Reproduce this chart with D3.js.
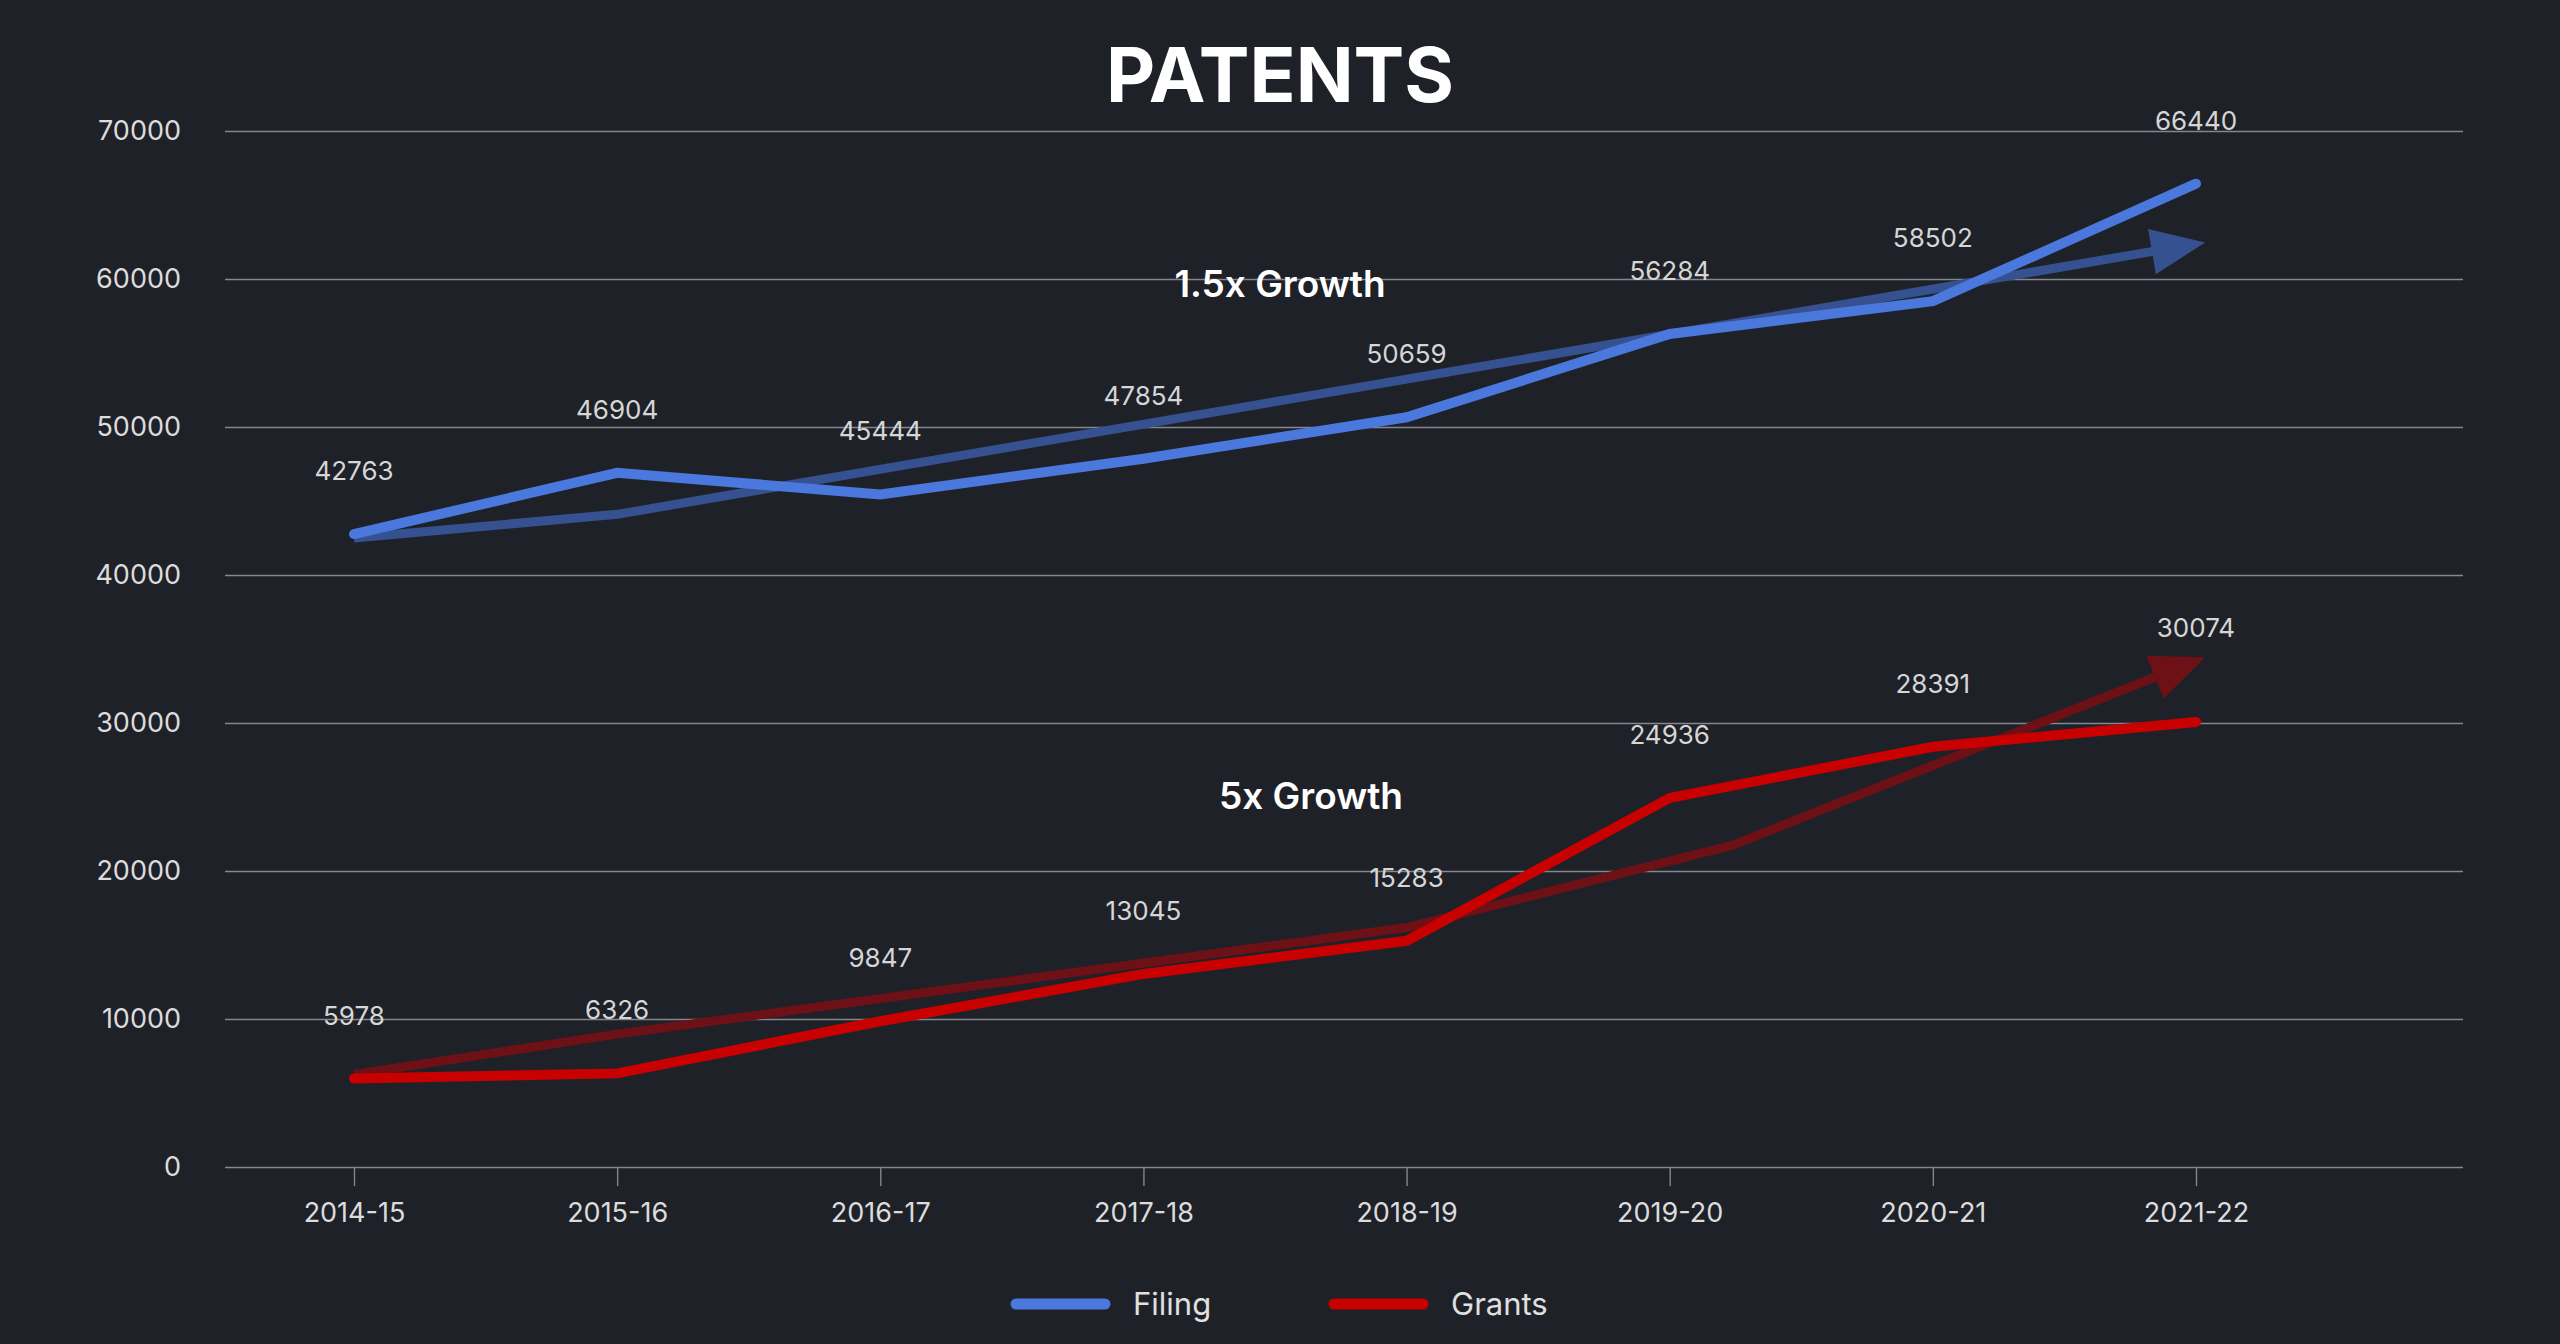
<!DOCTYPE html>
<html>
<head>
<meta charset="utf-8">
<script src="https://cdn.jsdelivr.net/npm/d3@7"></script>
<style>
  html, body { margin: 0; padding: 0; background: #1f2128; }
  svg { display: block; font-family: Inter, "Noto Sans", sans-serif; }
</style>
</head>
<body>
<svg id="chart" width="2560" height="1344"></svg>
<script>

//////////////////////
// Data
//////////////////////
var years = ["2014-15", "2015-16", "2016-17", "2017-18", "2018-19", "2019-20", "2020-21", "2021-22"];
var filing = [42763, 46904, 45444, 47854, 50659, 56284, 58502, 66440];
var grants = [5978, 6326, 9847, 13045, 15283, 24936, 28391, 30074];
var yTicks = [0, 10000, 20000, 30000, 40000, 50000, 60000, 70000];

// hand-drawn trend arrows: [year index, value]
var filingTrend = [[0, 42500], [1, 44100], [7.035, 62470]];
var grantsTrend = [[0, 6250], [1, 8980], [4, 16180], [5.24, 21750], [7.035, 34450]];

var seriesNames = ["Filing", "Grants"];
var seriesColors = ["#4a78dc", "#c80000"];
var trendColors = ["#36518f", "#6d1117"];

//////////////////////
// Layout
//////////////////////
var W = 2560, H = 1344;
var plot = { left: 225, right: 2463, top: 131, bottom: 1167 };

var svg = d3.select("#chart");

svg.append("rect").attr("width", W).attr("height", H).attr("fill", "#1f2128");

var x = d3.scalePoint().domain(years).range([354, 2196]);
var xi = d3.scaleLinear().domain([0, years.length - 1]).range([x(years[0]), x(years[years.length - 1])]);
var y = d3.scaleLinear().domain([0, 70000]).range([plot.bottom, plot.top]);

//////////////////////
// Axes
//////////////////////
var yAxis = svg.append("g")
    .attr("transform", "translate(" + plot.left + ",0)")
    .call(d3.axisLeft(y).tickValues(yTicks).tickFormat(d3.format("d"))
        .tickSize(-(plot.right - plot.left)).tickPadding(44));
yAxis.select(".domain").remove();
yAxis.selectAll(".tick line").attr("stroke", "#85878c").attr("stroke-width", 1.4);
yAxis.selectAll(".tick text")
    .attr("fill", "#dcdcdc")
    .attr("font-size", 27)
    .attr("font-family", "Inter");

var xAxis = svg.append("g")
    .attr("transform", "translate(0," + plot.bottom + ")")
    .call(d3.axisBottom(x).tickSize(19).tickPadding(17));
xAxis.select(".domain").remove();
xAxis.selectAll(".tick line").attr("stroke", "#85878c").attr("stroke-width", 1.4);
xAxis.selectAll(".tick text")
    .attr("fill", "#dcdcdc")
    .attr("font-size", 27)
    .attr("font-family", "Inter");

//////////////////////
// Trend arrows
//////////////////////
function drawTrend(pts, color) {
    var px = pts.map(function (p) { return [xi(p[0]), y(p[1])]; });
    var tip = px[px.length - 1], prev = px[px.length - 2];
    var dx = tip[0] - prev[0], dy = tip[1] - prev[1];
    var len = Math.sqrt(dx * dx + dy * dy);
    var ux = dx / len, uy = dy / len;
    var headLen = 54, headHalf = 23;
    var base = [tip[0] - ux * headLen, tip[1] - uy * headLen];
    var shaft = px.slice(0, -1).concat([[base[0] + ux * 4, base[1] + uy * 4]]);

    svg.append("path")
        .attr("d", d3.line()(shaft))
        .attr("fill", "none")
        .attr("stroke", color)
        .attr("stroke-width", 9)
        .attr("stroke-linejoin", "round")
        .attr("stroke-linecap", "butt");

    svg.append("path")
        .attr("d", d3.line()([
            tip,
            [base[0] - uy * headHalf, base[1] + ux * headHalf],
            [base[0] + uy * headHalf, base[1] - ux * headHalf]
        ]) + "Z")
        .attr("fill", color);
    return tip;
}

drawTrend(filingTrend, trendColors[0]);
var grantsTip = drawTrend(grantsTrend, trendColors[1]);

//////////////////////
// Series lines
//////////////////////
var line = d3.line()
    .x(function (d, i) { return x(years[i]); })
    .y(function (d) { return y(d); });

[filing, grants].forEach(function (vals, s) {
    svg.append("path")
        .datum(vals)
        .attr("d", line)
        .attr("fill", "none")
        .attr("stroke", seriesColors[s])
        .attr("stroke-width", 10)
        .attr("stroke-linejoin", "miter")
        .attr("stroke-linecap", "round");

    svg.append("g").selectAll("text")
        .data(vals)
        .enter()
        .append("text")
            .attr("x", function (d, i) { return x(years[i]); })
            .attr("y", function (d, i) {
                // last grants label sits above the arrow head
                if (s === 1 && i === vals.length - 1) { return grantsTip[1] - 20; }
                return y(d) - 54;
            })
            .attr("text-anchor", "middle")
            .attr("fill", "#d6d6d6")
            .attr("font-size", 26)
            .text(function (d) { return d; });
});

//////////////////////
// Titles & notes
//////////////////////
svg.append("text")
    .attr("x", 1280).attr("y", 102)
    .attr("text-anchor", "middle")
    .attr("fill", "#ffffff")
    .attr("font-size", 76)
    .attr("font-weight", 700)
    .text("PATENTS");

svg.append("text")
    .attr("x", 1280).attr("y", 297)
    .attr("text-anchor", "middle")
    .attr("fill", "#ffffff")
    .attr("font-size", 37)
    .attr("font-weight", 600)
    .text("1.5x Growth");

svg.append("text")
    .attr("x", 1311).attr("y", 809)
    .attr("text-anchor", "middle")
    .attr("fill", "#ffffff")
    .attr("font-size", 37)
    .attr("font-weight", 600)
    .text("5x Growth");

//////////////////////
// Legend
//////////////////////
var legend = svg.append("g").attr("transform", "translate(1011,1304)");
var item = legend.selectAll("g")
    .data(seriesNames)
    .enter()
    .append("g")
        .attr("transform", function (d, i) { return "translate(" + (i * 318) + ",0)"; });

item.append("line")
    .attr("x1", 5).attr("x2", 94)
    .attr("stroke", function (d, i) { return seriesColors[i]; })
    .attr("stroke-width", 11)
    .attr("stroke-linecap", "round");

item.append("text")
    .attr("x", 122).attr("y", 11)
    .attr("fill", "#e0e0e0")
    .attr("font-size", 31)
    .text(function (d) { return d; });

</script>
</body>
</html>
